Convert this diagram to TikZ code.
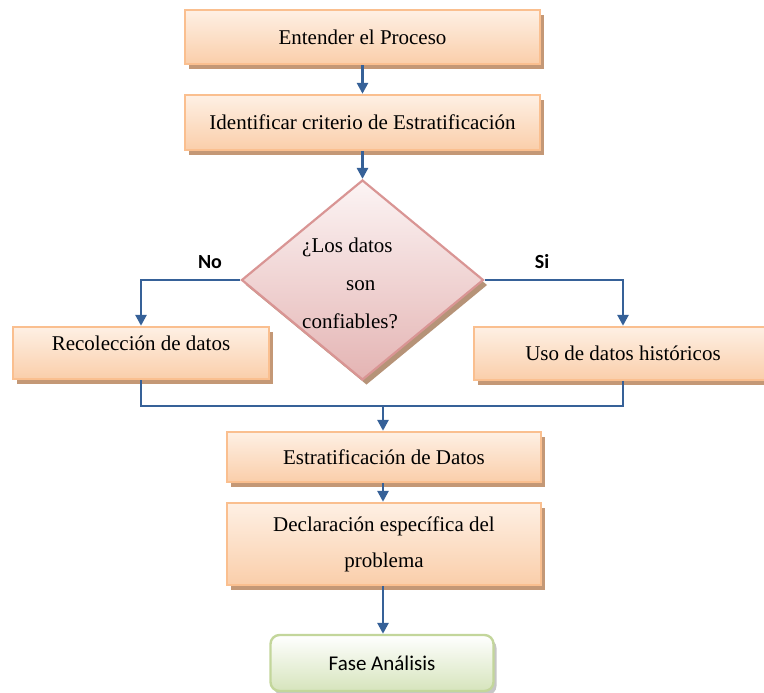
\documentclass[tikz,border=0pt]{standalone}
\usepackage{fontspec}
\setmainfont{Liberation Serif}
\newfontfamily\calib{Carlito}
\usetikzlibrary{shapes.geometric,shadows,arrows.meta}
\definecolor{peachborder}{RGB}{250,191,143}
\definecolor{peachtop}{RGB}{254,240,228}
\definecolor{peachbottom}{RGB}{250,206,170}
\definecolor{shadowbrown}{RGB}{196,152,118}
\definecolor{roseborder}{RGB}{217,149,148}
\definecolor{rosetop}{RGB}{252,244,244}
\definecolor{rosebottom}{RGB}{228,180,179}
\definecolor{greenborder}{RGB}{195,214,155}
\definecolor{greenbottom}{RGB}{214,228,188}
\definecolor{flowblue}{RGB}{54,97,152}
\tikzset{
  stepbox/.style={draw=peachborder, line width=2.4pt, top color=peachtop,
    bottom color=peachbottom, rectangle, inner sep=0pt, align=center,
    font=\fontsize{21}{36}\selectfont,
    general shadow={fill=shadowbrown, shadow xshift=4pt, shadow yshift=-5pt}},
  decision/.style={draw=roseborder, line width=2.2pt, top color=rosetop,
    bottom color=rosebottom, diamond, inner sep=0pt,
    general shadow={fill=shadowbrown!80!gray, shadow xshift=4pt, shadow yshift=-5pt}},
  endbox/.style={draw=greenborder, line width=2.4pt, top color=white,
    bottom color=greenbottom, rectangle, rounded corners=9pt, inner sep=0pt,
    font=\calib\fontsize{21}{24}\selectfont,
    general shadow={fill=gray!45, shadow xshift=3pt, shadow yshift=-4pt}},
  flow/.style={draw=flowblue, line width=2.7pt},
  arrow/.style={flow, -{Triangle[length=11pt,width=11pt]}},
  branch/.style={font=\calib\bfseries\fontsize{20}{22}\selectfont},
}
\begin{document}
\begin{tikzpicture}[x=1pt,y=-1pt]
\useasboundingbox (0,0) rectangle (764,693);

% process boxes
\node[stepbox, minimum width=355pt, minimum height=54pt] (e1) at (362.5,37) {Entender el Proceso};
\node[stepbox, minimum width=355pt, minimum height=55pt] (e2) at (362.5,122.5) {Identificar criterio de Estratificación};

% decision
\node[decision, minimum width=242pt, minimum height=200pt] (dia) at (362.5,280) {};
\node[align=left, inner sep=0pt, font=\fontsize{21}{38}\selectfont] (qtext) at (350,283)
  {¿Los datos\\\hspace*{44pt}son\\confiables?};

% branches
\node[stepbox, minimum width=256pt, minimum height=52pt, text depth=19pt] (recol) at (141,353) {Recolección de datos};
\node[stepbox, minimum width=298pt, minimum height=53pt] (uso) at (623,353.5) {Uso de datos históricos};
\node[branch] (no) at (210,262) {No};
\node[branch] (si) at (542,262) {Si};

% lower boxes
\node[stepbox, minimum width=314pt, minimum height=50pt] (estrat) at (384,457) {Estratificación de Datos};
\node[stepbox, minimum width=314pt, minimum height=82pt] (decl) at (384,544) {Declaración específica del\\problema};
\node[endbox, minimum width=223pt, minimum height=56pt] (fase) at (382,663) {Fase Análisis};

% connectors
\coordinate (join) at (383,406);
\draw[arrow] (e1.south) -- (e2.north);
\draw[arrow] (e2.south) -- (dia.north);
\draw[arrow] (dia.west) -| (recol.north);
\draw[arrow] (dia.east) -| (uso.north);
\draw[flow] (recol.south) |- (join) -| (uso.south);
\draw[arrow] (join) -- (join |- estrat.north);
\draw[arrow] (estrat.south -| join) -- (decl.north -| join);
\draw[arrow] (decl.south -| join) -- (fase.north -| join);
\end{tikzpicture}
\end{document}
